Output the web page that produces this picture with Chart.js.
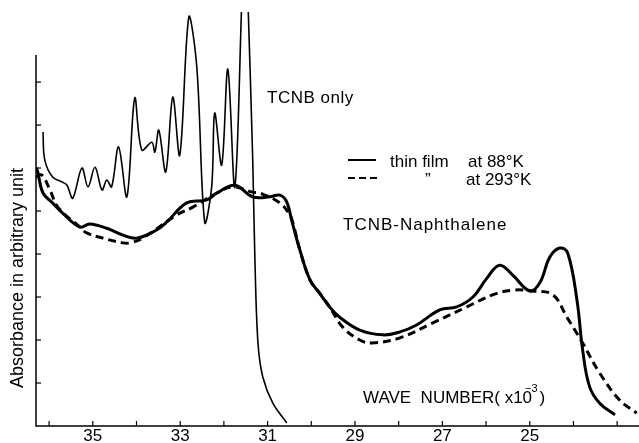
<!DOCTYPE html>
<html>
<head>
<meta charset="utf-8">
<script src="https://cdn.jsdelivr.net/npm/chart.js@4.4.1/dist/chart.umd.min.js"></script>
<style>
  html, body { margin: 0; padding: 0; background: #fff; }
</style>
</head>
<body>
<canvas id="spectrum" width="639" height="443"></canvas>
<script>
// wave number (x10^3 cm-1) and absorbance (arbitrary units)
const film88X = [36.30, 36.26, 36.14, 35.92, 35.69, 35.30, 35.07, 34.68, 34.31, 33.99, 33.54, 33.31, 32.85, 32.39, 32.16, 31.75, 31.34, 30.95, 30.72, 30.56, 30.45, 30.26, 30.03, 29.81, 29.58, 29.35, 28.89, 28.36, 27.97, 27.59, 27.06, 26.67, 26.30, 25.98, 25.69, 25.39, 25.00, 24.77, 24.54, 24.31, 24.13, 23.92, 23.79, 23.63, 23.40, 23.05];
const film88Y = [6.02, 5.91, 5.42, 5.19, 4.95, 4.63, 4.70, 4.60, 4.44, 4.37, 4.56, 4.74, 5.19, 5.26, 5.42, 5.60, 5.33, 5.33, 5.37, 5.21, 4.79, 4.09, 3.40, 3.09, 2.77, 2.53, 2.23, 2.12, 2.19, 2.35, 2.70, 2.77, 3.00, 3.44, 3.74, 3.51, 3.14, 3.33, 3.93, 4.14, 4.02, 2.93, 1.77, 0.91, 0.53, 0.26];

const film293X = [36.30, 36.17, 35.98, 35.80, 35.30, 35.14, 34.77, 34.31, 34.15, 33.86, 33.08, 32.71, 32.16, 31.80, 31.34, 31.18, 30.72, 30.49, 30.42, 30.26, 30.03, 29.81, 29.58, 29.28, 28.89, 28.62, 27.97, 27.22, 26.44, 25.85, 25.39, 24.93, 24.47, 24.15, 23.79, 23.40, 22.94, 22.55];
const film293Y = [5.79, 5.84, 5.49, 5.09, 4.63, 4.49, 4.37, 4.26, 4.26, 4.37, 4.91, 5.09, 5.42, 5.56, 5.44, 5.42, 5.19, 4.91, 4.72, 4.09, 3.40, 3.09, 2.77, 2.30, 2.00, 1.93, 2.05, 2.40, 2.77, 3.05, 3.16, 3.14, 3.05, 2.53, 1.93, 1.23, 0.60, 0.30];

const tcnbX = [36.14, 36.10, 35.92, 35.69, 35.59, 35.46, 35.25, 35.11, 34.95, 34.79, 34.68, 34.57, 34.41, 34.22, 34.04, 33.88, 33.65, 33.58, 33.49, 33.33, 33.17, 33.01, 32.80, 32.62, 32.44, 32.28, 32.21, 32.05, 31.91, 31.75, 31.59, 31.52, 31.45, 31.34, 31.29, 31.22, 31.11, 30.88, 30.56];
const tcnbY = [6.84, 6.19, 5.79, 5.67, 5.60, 5.30, 6.00, 5.56, 6.02, 5.49, 5.72, 5.56, 6.49, 5.33, 7.63, 6.42, 6.60, 6.37, 6.88, 5.91, 7.65, 6.30, 9.53, 8.35, 4.74, 5.56, 7.28, 6.07, 8.30, 5.56, 9.90, 12.0, 9.90, 6.19, 3.86, 1.93, 1.14, 0.53, 0.07];

const xTickLabels = [35, 33, 31, 29, 27, 25];
const yTickValues = [1, 2, 3, 4, 5, 6, 7, 8];
const yAxisTop = 8.63;

const FONT = '"Liberation Sans", Arial, sans-serif';

function pts(xs, ys) {
    return xs.map((x, i) => ({ x: x, y: ys[i] }));
}

// axis lines, inward tick marks and the figure's lettering
const figureDecor = {
    id: 'figureDecor',
    afterDraw(chart) {
        const ctx = chart.ctx;
        const xs = chart.scales.x;
        const ys = chart.scales.y;
        const area = chart.chartArea;
        ctx.save();
        ctx.strokeStyle = '#000';
        ctx.fillStyle = '#000';
        ctx.lineWidth = 1.5;

        ctx.beginPath();
        ctx.moveTo(area.left, ys.getPixelForValue(yAxisTop));
        ctx.lineTo(area.left, area.bottom);
        ctx.lineTo(area.right, area.bottom);
        ctx.stroke();

        ctx.lineWidth = 1.2;
        for (let v = 36; v >= 23; v--) {
            const px = xs.getPixelForValue(v);
            ctx.beginPath();
            ctx.moveTo(px, area.bottom);
            ctx.lineTo(px, area.bottom - 5);
            ctx.stroke();
        }
        yTickValues.forEach(v => {
            const py = ys.getPixelForValue(v);
            ctx.beginPath();
            ctx.moveTo(area.left, py);
            ctx.lineTo(area.left + 5, py);
            ctx.stroke();
        });

        ctx.textBaseline = 'middle';
        ctx.font = '17px ' + FONT;
        ctx.letterSpacing = '0.5px';
        ctx.fillText('TCNB only', 267, 98);
        ctx.letterSpacing = '1px';
        ctx.fillText('TCNB-Naphthalene', 343, 225);
        ctx.letterSpacing = '0px';

        // legend
        ctx.lineWidth = 2;
        ctx.beginPath();
        ctx.moveTo(348, 160);
        ctx.lineTo(376, 160);
        ctx.stroke();
        ctx.setLineDash([7, 4]);
        ctx.beginPath();
        ctx.moveTo(348, 178);
        ctx.lineTo(377, 178);
        ctx.stroke();
        ctx.setLineDash([]);
        ctx.font = '17px ' + FONT;
        ctx.fillText('thin film', 390, 162);
        ctx.fillText('at 88°K', 468, 162);
        ctx.fillText('\u201D', 425, 180);
        ctx.fillText('at 293°K', 466, 180);

        // axis title on the x side
        ctx.font = '17px ' + FONT;
        let tx = 363;
        const main = 'WAVE  NUMBER( x10';
        ctx.fillText(main, tx, 398);
        tx += ctx.measureText(main).width;
        ctx.font = '11px ' + FONT;
        ctx.fillText('\u22123', tx - 7, 389);
        tx += ctx.measureText('\u22123').width - 5;
        ctx.font = '17px ' + FONT;
        ctx.fillText(')', tx, 398);

        // y title
        ctx.translate(18, 278);
        ctx.rotate(-Math.PI / 2);
        ctx.textAlign = 'center';
        ctx.font = '18px ' + FONT;
        ctx.fillText('Absorbance in arbitrary unit', 0, 0);
        ctx.restore();
    }
};

new Chart(document.getElementById('spectrum'), {
    type: 'line',
    data: {
        datasets: [
            {
                label: 'TCNB only',
                data: pts(tcnbX, tcnbY),
                borderColor: '#000',
                borderWidth: 1.6,
                pointRadius: 0,
                tension: 0.35
            },
            {
                label: 'thin film at 88°K',
                data: pts(film88X, film88Y),
                borderColor: '#000',
                borderWidth: 3,
                pointRadius: 0,
                tension: 0.4
            },
            {
                label: 'at 293°K',
                data: pts(film293X, film293Y),
                borderColor: '#000',
                borderWidth: 3,
                borderDash: [8, 5],
                pointRadius: 0,
                tension: 0.4
            }
        ]
    },
    options: {
        responsive: false,
        animation: false,
        layout: { padding: { top: 12, right: 0, left: 0, bottom: 0 } },
        plugins: {
            legend: { display: false },
            tooltip: { enabled: false }
        },
        scales: {
            x: {
                type: 'linear',
                reverse: true,
                min: 22.5,
                max: 36.3,
                grid: { display: false, drawTicks: false },
                border: { display: false },
                ticks: {
                    stepSize: 1,
                    autoSkip: false,
                    maxRotation: 0,
                    padding: 0,
                    color: '#000',
                    font: { size: 17, family: FONT },
                    callback: v => xTickLabels.includes(v) ? String(v) : ''
                },
                afterFit: s => { s.height = 17; }
            },
            y: {
                min: 0,
                max: 9.63,
                grid: { display: false, drawTicks: false },
                border: { display: false },
                ticks: { display: false },
                afterFit: s => { s.width = 36; }
            }
        }
    },
    plugins: [figureDecor]
});
</script>
</body>
</html>
